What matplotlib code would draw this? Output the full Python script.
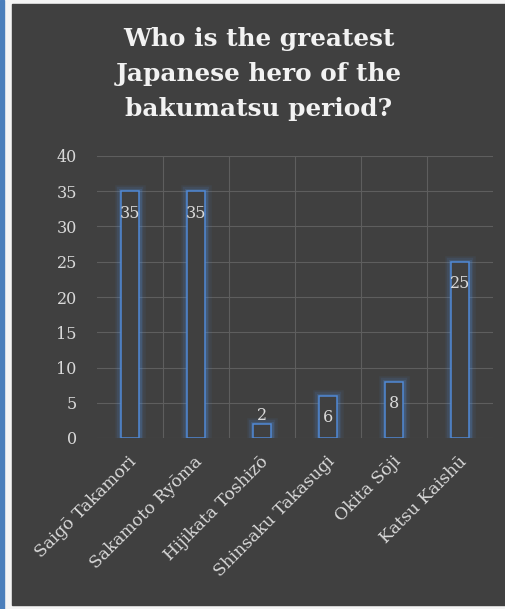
import matplotlib
matplotlib.use('Agg')
import matplotlib.pyplot as plt
from matplotlib.patches import Rectangle

names = ['Saigō Takamori', 'Sakamoto Ryōma', 'Hijikata Toshizō',
         'Shinsaku Takasugi', 'Okita Sōji', 'Katsu Kaishū']
votes = [35, 35, 2, 6, 8, 25]
yticks = [0, 5, 10, 15, 20, 25, 30, 35, 40]
title = 'Who is the greatest\nJapanese hero of the\nbakumatsu period?'

bg = '#404040'
txt = '#d9d9d9'
blue = '#5089d6'

plt.rcParams['font.family'] = ['DejaVu Serif']

fig = plt.figure(figsize=(5.06, 6.09), dpi=100)
fig.patch.set_facecolor('#f4f4f4')

# frame: blue strip on the left, white gap, dark panel
fig.add_artist(Rectangle((0, 0), 4/506, 1, transform=fig.transFigure,
                         color='#4a7ebb', zorder=-10))
fig.add_artist(Rectangle((12/506, 4/609), 1, 601/609, transform=fig.transFigure,
                         color=bg, zorder=-10))

ax = fig.add_axes([97/506, 1 - 438/609, 396/506, 282/609])
ax.set_zorder(1)
ax.set_facecolor(bg)
x = list(range(len(names)))

# glow under the outlines
for lw, a in [(9, 0.08), (6, 0.13), (3.5, 0.22)]:
    ax.bar(x, votes, width=0.26, facecolor='none', edgecolor=blue,
           linewidth=lw, alpha=a, zorder=2)
ax.bar(x, votes, width=0.26, facecolor=bg, edgecolor=blue, linewidth=1.1, zorder=3)

for xi, v in zip(x, votes):
    if v < 5:
        ax.annotate(str(v), (xi, v), xytext=(0, 0), textcoords='offset points',
                    ha='center', va='bottom', color=txt, fontsize=11.5, zorder=4)
    else:
        ax.annotate(str(v), (xi, v), xytext=(0, -16), textcoords='offset points',
                    ha='center', va='center', color=txt, fontsize=11.5, zorder=4)

ax.set_xlim(-0.5, len(names) - 0.5)
ax.set_ylim(0, 40)
ax.set_yticks(yticks)
ax.set_xticks([i + 0.5 for i in x[:-1]], minor=False)
ax.set_xticklabels([])
ax.grid(True, color='#5e5e5e', linewidth=0.8, zorder=0)
ax.set_axisbelow(True)
for s in ax.spines.values():
    s.set_visible(False)
ax.tick_params(axis='both', length=0, colors=txt, labelsize=11.5)
ax.tick_params(axis='y', pad=14.5)

for xi, n in zip(x, names):
    ax.annotate(n, (xi, 0), xytext=(3, -15), textcoords='offset points',
                rotation=45, rotation_mode='anchor', ha='right', va='center',
                color=txt, fontsize=12.3, annotation_clip=False)

fig.text(0.5 + 6/506, 1 - 74/609, title, ha='center', va='center', color='#f2f2f2',
         fontsize=17.8, fontweight='bold', linespacing=1.6)

fig.savefig('out.png', dpi=100, facecolor=fig.get_facecolor())
